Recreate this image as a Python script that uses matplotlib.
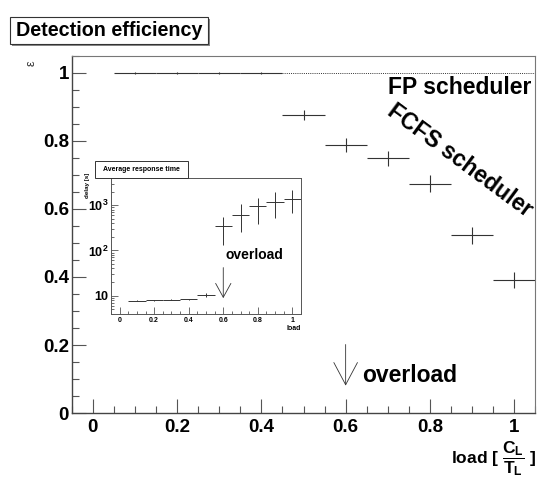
import numpy as np
import matplotlib
matplotlib.use('Agg')
import matplotlib.pyplot as plt
from matplotlib.ticker import MultipleLocator, FixedLocator, LogLocator, NullFormatter
from matplotlib.patches import Rectangle

plt.rcParams['font.family'] = ['Liberation Sans', 'DejaVu Sans']
plt.rcParams['font.weight'] = 'bold'
plt.rcParams['mathtext.fontset'] = 'custom'
plt.rcParams['mathtext.rm'] = 'Liberation Sans:bold'
plt.rcParams['mathtext.it'] = 'Liberation Sans:bold'
plt.rcParams['mathtext.bf'] = 'Liberation Sans:bold'

# main plot: detection efficiency
fp_load = [0.1, 0.2, 0.3, 0.4]
fp_eff = [1.0, 1.0, 1.0, 1.0]
fp_err = [0.003, 0.003, 0.003, 0.003]

fcfs_load = [0.5, 0.6, 0.7, 0.8, 0.9, 1.0]
fcfs_eff = [0.875, 0.787, 0.748, 0.674, 0.523, 0.391]
fcfs_err = [0.015, 0.02, 0.023, 0.024, 0.025, 0.024]

bin_half = 0.05

# inset: average response time
delay_load = [0.1, 0.2, 0.3, 0.4, 0.5, 0.6, 0.7, 0.8, 0.9, 1.0]
delay_val = [7.6, 7.8, 8.0, 8.3, 10.3, 341, 620, 950, 1190, 1380]
delay_lo = [7.4, 7.6, 7.8, 8.1, 9.5, 134, 257, 380, 535, 665]
delay_hi = [7.8, 8.0, 8.2, 8.5, 11.2, 550, 1070, 1450, 1950, 2140]

fig = plt.figure(figsize=(5.37, 4.79), dpi=100)
W, H = 537, 479

def px_rect(l, t, r, b):
    return [l / W, 1 - b / H, (r - l) / W, (b - t) / H]

ax = fig.add_axes(px_rect(71.7, 55.5, 535.3, 413.3))
ecol = '#333333'
ax.errorbar(fp_load, fp_eff, xerr=bin_half, yerr=fp_err, fmt='none',
            ecolor=ecol, elinewidth=0.8, capsize=0)
ax.errorbar(fcfs_load, fcfs_eff, xerr=bin_half, yerr=fcfs_err, fmt='none',
            ecolor=ecol, elinewidth=0.8, capsize=0)
ax.plot([fp_load[-1] + bin_half, 1.05], [1.0, 1.0], ls=(0, (1, 1.2)),
        color=ecol, lw=0.7)

ax.set_xlim(-0.05, 1.05)
ax.set_ylim(0, 1.05)
ax.xaxis.set_minor_locator(MultipleLocator(0.05))
ax.yaxis.set_minor_locator(MultipleLocator(0.05))
ax.set_xticks([0, 0.2, 0.4, 0.6, 0.8, 1.0], ['0', '0.2', '0.4', '0.6', '0.8', '1'])
ax.set_yticks([0, 0.2, 0.4, 0.6, 0.8, 1.0], ['0', '0.2', '0.4', '0.6', '0.8', '1'])
ax.tick_params(which='both', direction='in', top=False, right=False, color='#555555')
ax.tick_params(which='major', length=10, width=0.8, labelsize=13.5, pad=4)
ax.tick_params(axis='y', which='major', pad=2)
ax.tick_params(which='minor', length=5, width=0.8)
for s in ['top', 'right']:
    ax.spines[s].set_color('#777777')
    ax.spines[s].set_linewidth(0.8)
for s in ['left', 'bottom']:
    ax.spines[s].set_color('#444444')
    ax.spines[s].set_linewidth(1.0)

ax.text(1.04, 0.955, 'FP scheduler', ha='right', va='center', fontsize=16.5)
ax.text(0.872, 0.743, 'FCFS scheduler', ha='center', va='center', fontsize=16.5,
        rotation=-36.5)
ax.annotate('', xy=(0.6, 0.073), xytext=(0.6, 0.21),
            arrowprops=dict(arrowstyle='->, head_length=1.6, head_width=0.85',
                            lw=0.6, color=ecol, mutation_scale=10))
ax.text(0.638, 0.112, 'overload', ha='left', va='center', fontsize=16.5)

# inset
ai = fig.add_axes(px_rect(111, 177.7, 301, 314))
yerr = [np.array(delay_val) - np.array(delay_lo), np.array(delay_hi) - np.array(delay_val)]
ai.errorbar(delay_load, delay_val, xerr=bin_half, yerr=yerr, fmt='none',
            ecolor=ecol, elinewidth=0.7, capsize=0)
ai.set_yscale('log')
ai.set_xlim(-0.05, 1.05)
ai.set_ylim(3.9, 4100)
ai.set_xticks([0, 0.2, 0.4, 0.6, 0.8, 1.0], ['0', '0.2', '0.4', '0.6', '0.8', '1'])
ai.xaxis.set_minor_locator(MultipleLocator(0.05))
ai.yaxis.set_major_locator(FixedLocator([10, 100, 1000]))
ai.set_yticklabels(['10', '$10^2$', '$10^3$'])
ai.yaxis.set_minor_locator(LogLocator(base=10, subs=np.arange(2, 10)))
ai.yaxis.set_minor_formatter(NullFormatter())
ai.tick_params(which='both', direction='in', top=False, right=False, color='#555555')
ai.tick_params(axis='x', which='major', length=5, width=0.6, labelsize=5, pad=2)
ai.tick_params(axis='y', which='major', length=5, width=0.6, labelsize=9, pad=2)
ai.tick_params(which='minor', length=2.5, width=0.6)
for s in ai.spines.values():
    s.set_color('#555555')
    s.set_linewidth(0.7)
ai.annotate('', xy=(0.6, 7.6), xytext=(0.6, 48),
            arrowprops=dict(arrowstyle='->, head_length=1.0, head_width=0.55',
                            lw=0.6, color=ecol, mutation_scale=10))
ai.text(0.615, 100 * 10 ** (-0.1), 'overload', ha='left', va='center', fontsize=10)

fig.text(87 / W, 1 - 185 / H, 'delay [s]', rotation=90, ha='center', va='center',
         fontsize=4.5)
fig.text(301 / W, 1 - 329 / H, 'load', ha='right', va='center', fontsize=5)

# inset title box
fig.add_artist(Rectangle((95 / W, 1 - 177.7 / H), (187.7 - 95) / W, (177.7 - 161) / H,
                         transform=fig.transFigure, facecolor='white',
                         edgecolor='#333333', lw=0.7))
fig.text(141 / W, 1 - 169.5 / H, 'Average response time', ha='center', va='center',
         fontsize=5)

# title box with shadow
fig.add_artist(Rectangle((12 / W, 1 - 45.5 / H), (210 - 12) / W, (45.5 - 19) / H,
                         transform=fig.transFigure, facecolor='#888888',
                         edgecolor='none'))
fig.add_artist(Rectangle((10 / W, 1 - 43.8 / H), (208 - 10) / W, (43.8 - 17) / H,
                         transform=fig.transFigure, facecolor='white',
                         edgecolor='#333333', lw=0.8))
fig.text(109.5 / W, 1 - 30.5 / H, 'Detection efficiency', ha='center', va='center',
         fontsize=14.2)

fig.text(31.7 / W, 1 - 63.3 / H, 'ε', rotation=90, ha='center', va='center',
         fontsize=9, fontweight='normal', color='#333333')
fig.text(536 / W, 1 - 459 / H, r'load [ $\dfrac{C_L}{T_L}$ ]', ha='right', va='center',
         fontsize=12.5)

fig.savefig('out.png', dpi=100)
